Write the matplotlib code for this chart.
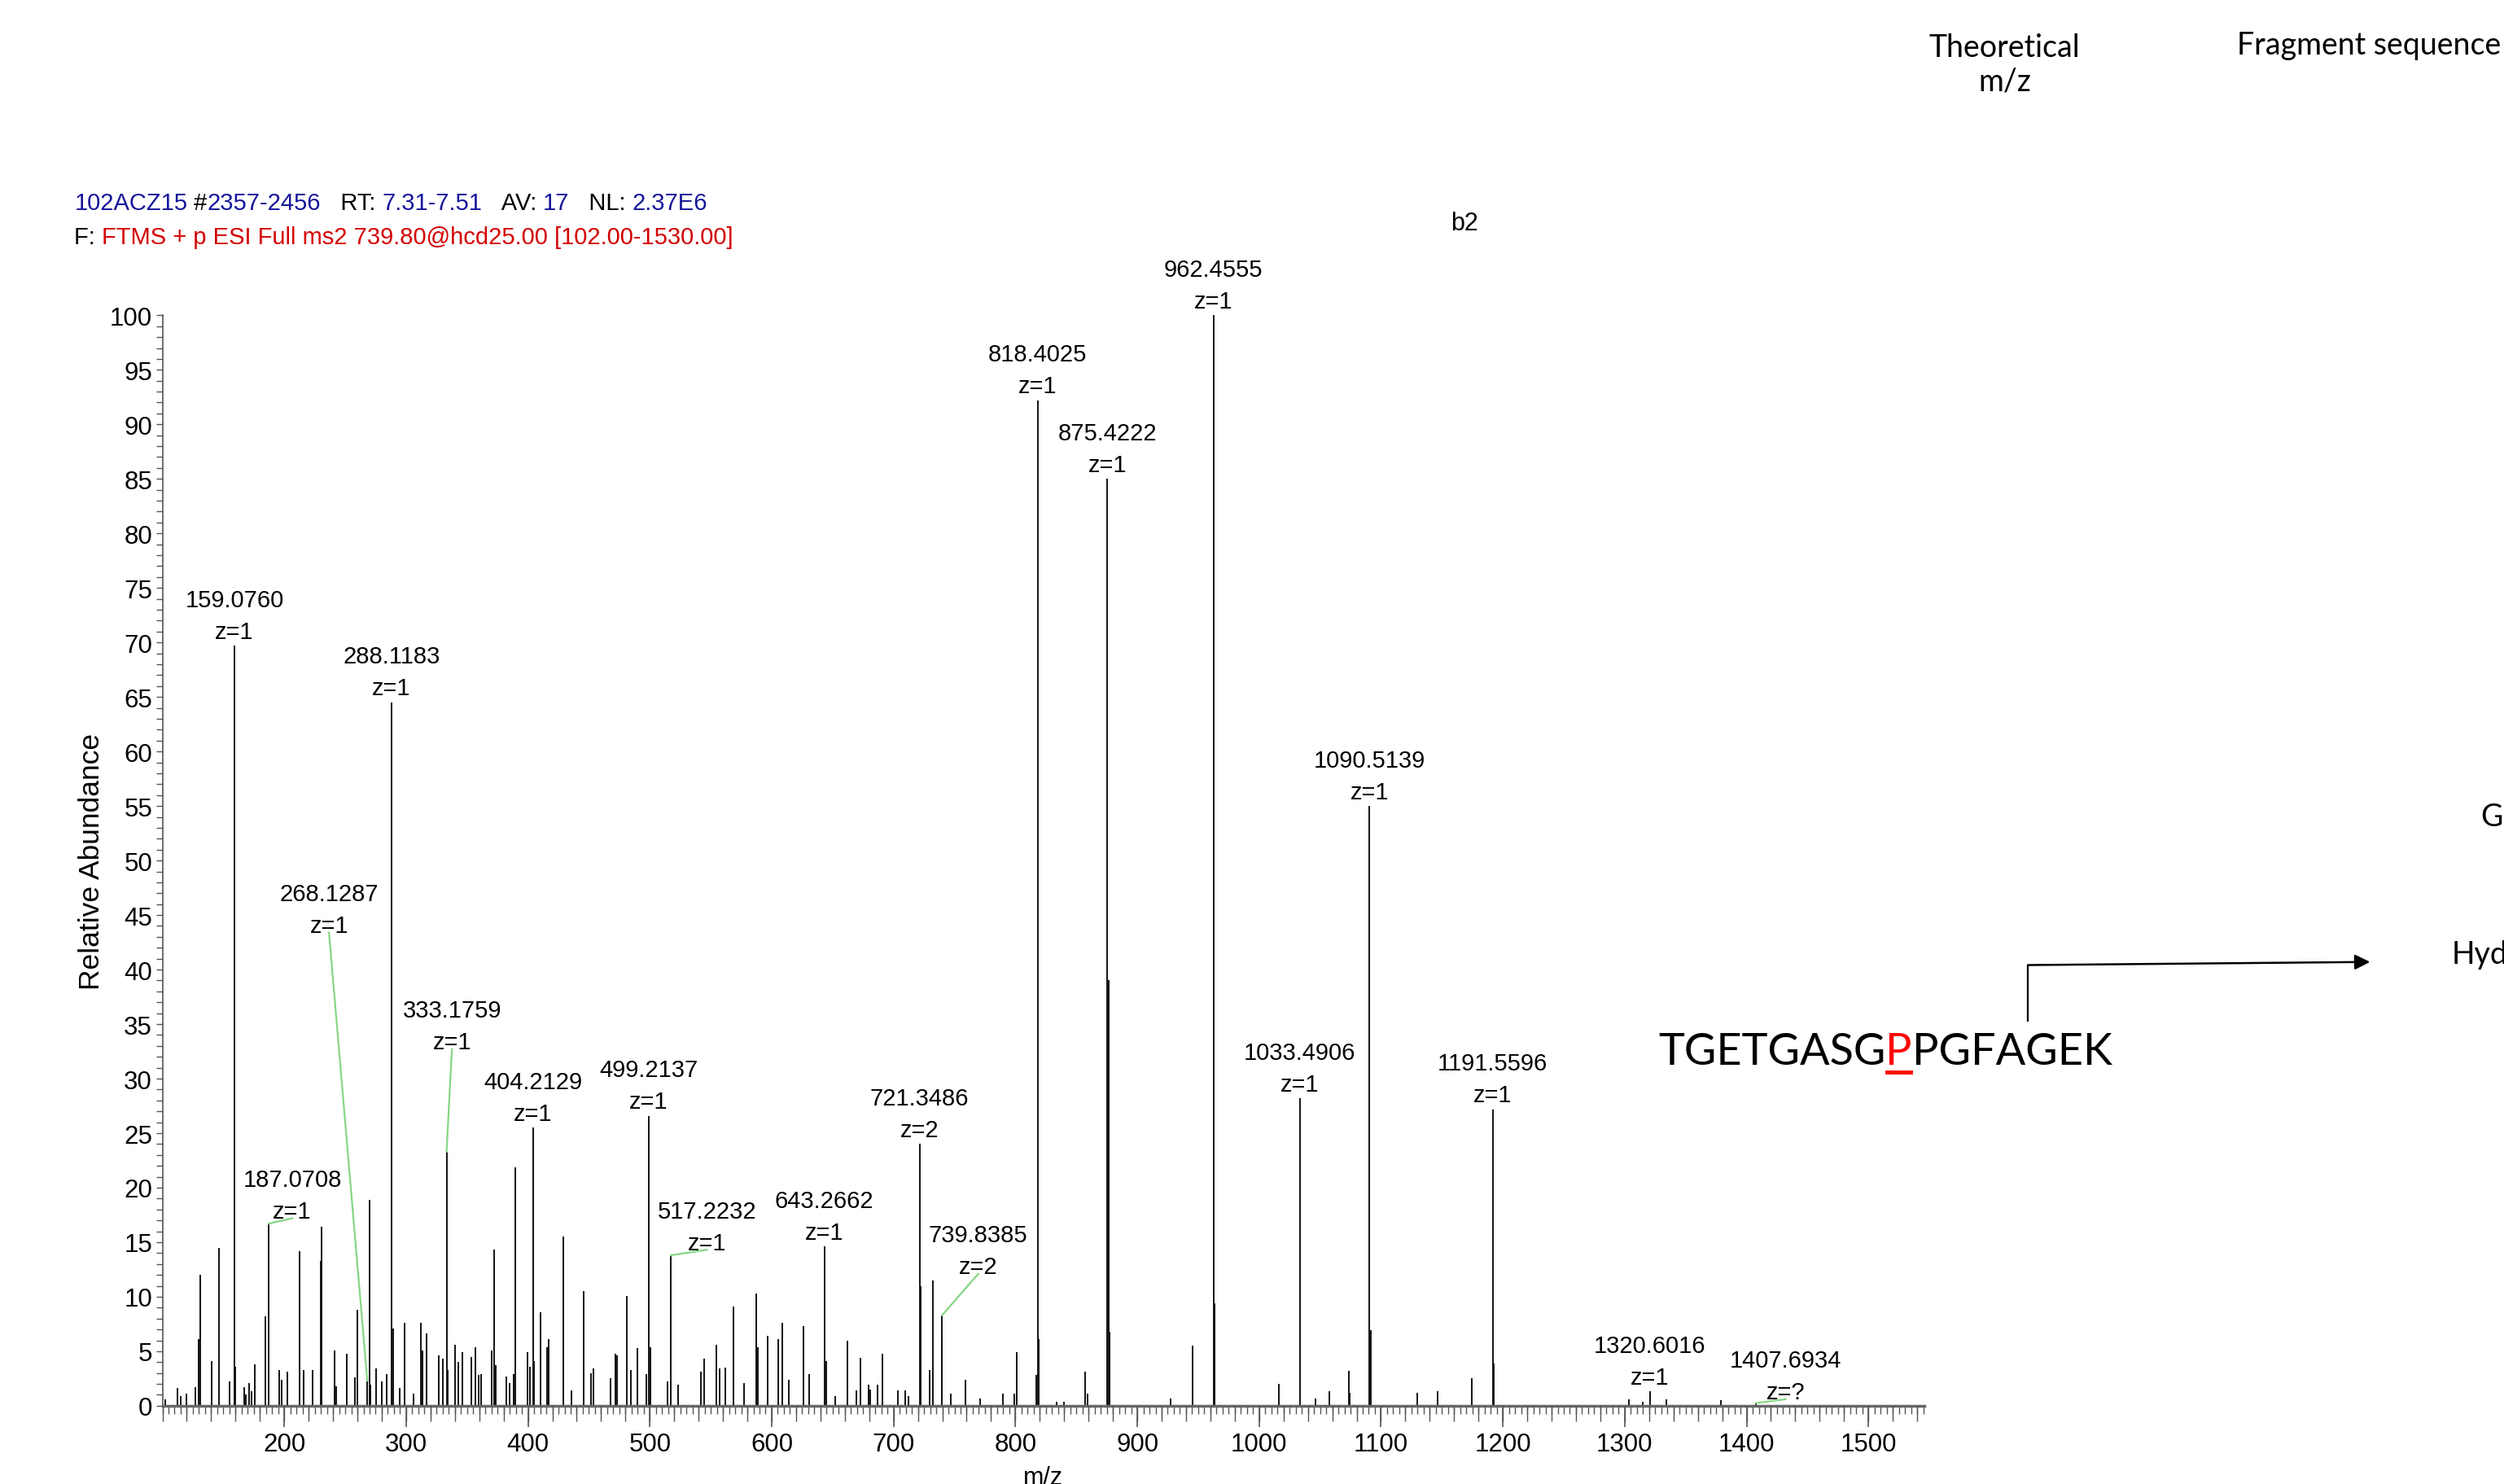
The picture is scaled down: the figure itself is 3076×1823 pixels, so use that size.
import matplotlib
matplotlib.use('Agg')
import matplotlib.pyplot as plt
import numpy as np
from matplotlib.ticker import MultipleLocator
from matplotlib.lines import Line2D
from matplotlib.patches import FancyArrowPatch
from matplotlib.transforms import IdentityTransform

# peak list (m/z, relative abundance)
mz = [102.6, 112.2, 114.8, 119.7, 127.0, 129.7, 130.8, 140.2, 146.4, 155.1,
      159.0760, 160.0, 167.1, 168.5, 170.9, 173.1, 175.8, 184.4, 187.0708, 195.6,
      197.8, 202.7, 212.5, 216.1, 223.4, 229.7, 230.8, 241.5, 242.5, 251.3,
      257.8, 259.8, 268.1287, 269.8, 271.0, 275.6, 280.1, 283.9, 288.1183, 289.1,
      294.8, 298.6, 306.0, 311.8, 313.3, 317.1, 326.7, 330.1, 333.1759, 334.2,
      340.2, 342.5, 345.9, 353.3, 357.1, 359.3, 361.5, 370.5, 372.2, 373.5,
      382.4, 384.6, 388.5, 389.9, 399.3, 401.8, 404.2129, 405.2, 410.5, 415.4,
      416.7, 428.7, 436.0, 445.7, 452.0, 453.8, 467.8, 471.6, 472.8, 481.3,
      484.4, 489.8, 497.2, 499.2137, 500.2, 514.8, 517.2232, 523.2, 541.8, 544.3,
      554.7, 557.2, 562.2, 568.8, 577.3, 587.1, 588.4, 596.9, 605.1, 608.9,
      614.0, 626.3, 630.8, 643.2662, 644.8, 652.4, 662.2, 669.3, 672.8, 679.5,
      681.0, 687.0, 690.9, 703.4, 709.6, 712.3, 721.3486, 722.5, 729.3, 732.1,
      739.34, 739.8385, 747.0, 758.9, 770.9, 789.4, 799.4, 801.3, 817.1, 818.4025,
      819.4, 834.0, 840.0, 857.3, 859.5, 875.4222, 876.42, 877.3, 927.5, 945.1,
      962.4555, 963.46, 1016.0, 1033.4906, 1046.0, 1057.4, 1073.4, 1074.5, 1090.5139, 1091.5,
      1129.5, 1146.7, 1174.2, 1191.5596, 1192.6, 1303.3, 1315.0, 1320.6016, 1334.0, 1379.0,
      1407.6934]
intensity = [0.6, 1.6, 0.9, 1.1, 1.7, 6.1, 12.0, 4.1, 14.5, 2.2,
             69.7, 3.6, 1.7, 1.0, 2.1, 1.3, 3.8, 8.2, 16.7, 3.3,
             2.4, 3.1, 14.2, 3.3, 3.3, 13.3, 16.4, 5.1, 1.8, 4.8,
             2.6, 8.8, 2.3, 18.9, 1.9, 3.4, 2.2, 2.9, 64.5, 7.1,
             1.6, 7.6, 1.1, 7.6, 5.1, 6.6, 4.6, 4.3, 23.3, 3.3,
             5.6, 4.0, 4.9, 4.5, 5.4, 2.8, 2.9, 5.1, 14.3, 3.7,
             2.7, 2.1, 2.9, 21.9, 4.9, 3.6, 25.5, 4.1, 8.6, 5.4,
             6.1, 15.5, 1.4, 10.5, 3.0, 3.4, 2.5, 4.8, 4.6, 10.1,
             3.3, 5.3, 2.9, 26.6, 5.4, 2.2, 13.8, 1.9, 3.1, 4.3,
             5.6, 3.4, 3.5, 9.1, 2.1, 10.3, 5.4, 6.4, 6.1, 7.6,
             2.4, 7.3, 2.9, 14.6, 4.1, 0.9, 6.0, 1.4, 4.4, 1.9,
             1.5, 1.9, 4.8, 1.4, 1.4, 0.9, 24.0, 11.0, 3.3, 11.5,
             6.0, 8.3, 1.1, 2.4, 0.7, 1.1, 1.1, 4.9, 2.8, 92.2,
             6.1, 0.4, 0.4, 3.1, 1.1, 85.0, 39.0, 6.8, 0.7, 5.5,
             100.0, 9.4, 2.0, 28.2, 0.7, 1.3, 3.2, 1.2, 55.0, 6.9,
             1.2, 1.3, 2.5, 27.2, 3.9, 0.6, 0.4, 1.3, 0.6, 0.5,
             0.25]

# annotated peaks
label_mz = ['159.0760', '187.0708', '268.1287', '288.1183', '333.1759', '404.2129',
            '499.2137', '517.2232', '643.2662', '721.3486', '739.8385', '818.4025',
            '875.4222', '962.4555', '1033.4906', '1090.5139', '1191.5596', '1320.6016',
            '1407.6934']
label_z = ['z=1', 'z=1', 'z=1', 'z=1', 'z=1', 'z=1',
           'z=1', 'z=1', 'z=1', 'z=2', 'z=2', 'z=1',
           'z=1', 'z=1', 'z=1', 'z=1', 'z=1', 'z=1',
           'z=?']

# labels moved away from their peak (text anchor in data units) with a leader line
callout_pos = {'187.0708': (206.6, 17.2), '268.1287': (236.7, 43.4),
               '333.1759': (337.6, 32.7), '517.2232': (546.9, 14.3),
               '739.8385': (769.5, 12.1), '1407.6934': (1432.0, 0.6)}

peptide = ['TGETGASG', 'P', 'PGFAGEK']

arial = ['Liberation Sans', 'DejaVu Sans']
calibri = ['Lato', 'DejaVu Sans']
blue = '#16169a'
red = '#d40000'

fig = plt.figure(figsize=(30.76, 18.24), dpi=100)
ax = fig.add_axes([0.06486, 0.05269, 0.7037, 0.73441])

ax.vlines(mz, 0, intensity, color='#111111', lw=1.4)
ax.set_xlim(100, 1546)
ax.set_ylim(0, 100)

for s in ['top', 'right']:
    ax.spines[s].set_visible(False)
ax.spines['bottom'].set_color('#666666')
ax.spines['bottom'].set_linewidth(2.5)
ax.spines['left'].set_color('#555555')
ax.spines['left'].set_linewidth(1.2)

ax.xaxis.set_major_locator(MultipleLocator(100))
ax.xaxis.set_minor_locator(MultipleLocator(5))
ax.yaxis.set_major_locator(MultipleLocator(5))
ax.yaxis.set_minor_locator(MultipleLocator(1))
ax.tick_params(axis='x', which='major', length=19, width=1.2, color='#555555', pad=4,
               labelsize=22.5)
ax.tick_params(axis='x', which='minor', length=7, width=1.0, color='#555555')
ax.tick_params(axis='y', which='both', length=6, width=1.0, color='#555555', pad=3,
               labelsize=22.5)
ax.set_xticks(list(range(200, 1501, 100)))
for t in ax.get_xticklabels() + ax.get_yticklabels():
    t.set_family(arial)

# medium ticks every 20 on a twin axis
ax2 = ax.twiny()
ax2.set_xlim(ax.get_xlim())
ax2.xaxis.tick_bottom()
ax2.set_xticks(np.arange(100, 1547, 20))
ax2.tick_params(axis='x', length=13.5, width=1.0, color='#555555', labelbottom=False)
for s in ax2.spines.values():
    s.set_visible(False)

ax.set_ylabel('Relative Abundance', family=arial, fontsize=25.5, labelpad=4)
fig.text(0.4165, -0.004, 'm/z', family=arial, fontsize=22, ha='center', va='bottom')

# peak labels
for lab, zz in zip(label_mz, label_z):
    i = mz.index(float(lab))
    h = intensity[i]
    txt = lab + '\n' + zz
    if lab in callout_pos:
        tx, ty = callout_pos[lab]
        ax.text(tx, ty - 0.4, txt, ha='center', va='bottom', family=arial,
                fontsize=21, linespacing=1.5)
        ax.plot([mz[i], tx], [h, ty], color='#86d686', lw=1.6, clip_on=False)
    else:
        ax.annotate(txt, xy=(mz[i], h), xytext=(0, 2.5), textcoords='offset points',
                    ha='center', va='bottom', family=arial, fontsize=21,
                    linespacing=1.5, annotation_clip=False)


def chained(x, y, pieces, size, family):
    prev = None
    arts = []
    for txt, col in pieces:
        if prev is None:
            prev = fig.text(x, y, txt, color=col, fontsize=size, family=family,
                            ha='left', va='baseline')
        else:
            prev = ax.annotate(txt, xy=(1, 0), xycoords=prev, ha='left', va='bottom',
                               color=col, fontsize=size, family=family,
                               annotation_clip=False)
        arts.append(prev)
    return arts


chained(0.0297, 0.8585, [('102ACZ15', blue), (' #', 'black'), ('2357-2456', blue),
                         ('   RT: ', 'black'), ('7.31-7.51', blue), ('   AV: ', 'black'),
                         ('17', blue), ('   NL: ', 'black'), ('2.37E6', blue)], 21, arial)
chained(0.0297, 0.8355, [('F: ', 'black'),
                         ('FTMS + p ESI Full ms2 739.80@hcd25.00 [102.00-1530.00]', red)],
        21, arial)

fig.text(0.585, 0.849, 'b2', fontsize=22, family=arial, ha='center', va='center')

# right hand side annotations
fig.text(0.8005, 0.9775, 'Theoretical\nm/z', fontsize=27, family=calibri, ha='center',
         va='top', linespacing=1.2)
fig.text(0.8935, 0.9695, 'Fragment sequence', fontsize=27, family=calibri, ha='left',
         va='center')
fig.text(0.9905, 0.4495, 'GEK', fontsize=27, family=calibri, ha='left', va='center')
fig.text(0.979, 0.357, 'Hydroxylation', fontsize=27, family=calibri, ha='left',
         va='center')

pep = chained(0.6622, 0.2830, [(peptide[0], 'black'), (peptide[1], '#ff0000'),
                               (peptide[2], 'black')], 39, calibri)

fig.add_artist(Line2D([0.80995, 0.80995], [0.3118, 0.3495], color='black', lw=1.6))
fig.add_artist(FancyArrowPatch((0.80995, 0.3495), (0.9465, 0.3516), arrowstyle='-|>',
                               mutation_scale=28, color='black', lw=1.8,
                               shrinkA=0, shrinkB=0))

fig.canvas.draw()
r = fig.canvas.get_renderer()
bb = pep[1].get_window_extent(r)
base = fig.transFigure.transform((0, 0.2830))[1]
fig.add_artist(Line2D([bb.x0 + 2, bb.x1 - 2], [base - 10, base - 10], color='#ff0000',
                      lw=3.5, transform=IdentityTransform()))

fig.savefig('out.png', dpi=100)
